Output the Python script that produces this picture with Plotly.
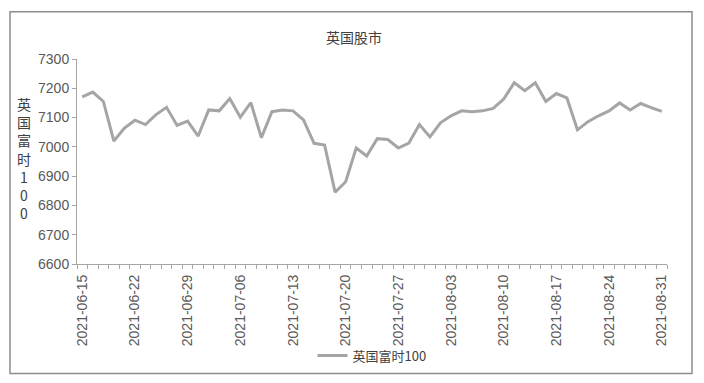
import plotly.graph_objects as go

dates = [
    "2021-06-15", "2021-06-16", "2021-06-17", "2021-06-18",
    "2021-06-21", "2021-06-22", "2021-06-23", "2021-06-24", "2021-06-25",
    "2021-06-28", "2021-06-29", "2021-06-30", "2021-07-01", "2021-07-02",
    "2021-07-05", "2021-07-06", "2021-07-07", "2021-07-08", "2021-07-09",
    "2021-07-12", "2021-07-13", "2021-07-14", "2021-07-15", "2021-07-16",
    "2021-07-19", "2021-07-20", "2021-07-21", "2021-07-22", "2021-07-23",
    "2021-07-26", "2021-07-27", "2021-07-28", "2021-07-29", "2021-07-30",
    "2021-08-02", "2021-08-03", "2021-08-04", "2021-08-05", "2021-08-06",
    "2021-08-09", "2021-08-10", "2021-08-11", "2021-08-12", "2021-08-13",
    "2021-08-16", "2021-08-17", "2021-08-18", "2021-08-19", "2021-08-20",
    "2021-08-23", "2021-08-24", "2021-08-25", "2021-08-26", "2021-08-27",
    "2021-08-30", "2021-08-31",
]

ftse100 = [
    7171, 7187, 7155, 7020,
    7064, 7091, 7076, 7110, 7135,
    7073, 7088, 7037, 7126, 7123,
    7165, 7101, 7151, 7031, 7120,
    7126, 7123, 7092, 7012, 7006,
    6845, 6881, 6996, 6969, 7028,
    7025, 6996, 7013, 7076, 7034,
    7082, 7106, 7123, 7120, 7123,
    7131, 7163, 7219, 7192, 7219,
    7155, 7182, 7167, 7058, 7086,
    7106, 7123, 7150, 7126, 7148,
    7134, 7121,
]

series_name = "英国富时100"
title_text = "英国股市"
y_title_chars = ["英", "国", "富", "时", "1", "0", "0"]
y_ticks = [6600, 6700, 6800, 6900, 7000, 7100, 7200, 7300]
label_step = 5

idx = list(range(len(dates)))
tick_idx = idx[::label_step]
tick_txt = [dates[i] for i in tick_idx]

W, H = 704, 383
ml, mr, mt, mb = 77, 37, 59, 116
pw = W - ml - mr
ph = H - mt - mb


def px_to_paper_x(px):
    return (px - ml) / pw


def px_to_paper_y(py):
    return (H - mb - py) / ph


label_font = dict(family="Liberation Sans, Arial, sans-serif", size=14, color="#595959")
cjk = "Noto Sans CJK SC, sans-serif"

fig = go.Figure()
fig.add_trace(go.Scatter(
    x=idx, y=ftse100, mode="lines", name=series_name,
    line=dict(color="#A5A5A5", width=3),
))

fig.update_layout(
    width=W, height=H,
    margin=dict(l=ml, r=mr, t=mt, b=mb, pad=0),
    paper_bgcolor="white", plot_bgcolor="white",
    title=dict(text=title_text, x=px_to_paper_x(354), xref="paper", xanchor="center",
               y=1 - 38 / H, yanchor="middle",
               font=dict(family=cjk, size=14, color="#404040")),
    showlegend=True,
    legend=dict(orientation="h", x=0.5, xanchor="center",
                y=px_to_paper_y(360), yanchor="middle",
                font=dict(family=cjk, size=13, color="#404040"),
                bgcolor="rgba(0,0,0,0)", itemwidth=30),
    xaxis=dict(
        range=[-0.5, len(dates) - 0.5], tickmode="array",
        tickvals=tick_idx, ticktext=tick_txt, tickangle=-90,
        showgrid=False, zeroline=False, showline=True,
        linecolor="#A6A6A6", linewidth=1,
        ticks="outside", ticklen=4, tickcolor="rgba(0,0,0,0)",
        tickfont=label_font,
        minor=dict(ticks="outside", ticklen=4, tickcolor="#A6A6A6",
                   tickmode="linear", tick0=-0.5, dtick=1, showgrid=False),
    ),
    yaxis=dict(
        range=[6600, 7300], tickmode="array", tickvals=y_ticks,
        showgrid=False, zeroline=False, showline=True,
        linecolor="#A6A6A6", linewidth=1,
        ticks="outside", ticklen=4, tickcolor="#A6A6A6",
        tickfont=label_font,
    ),
)

fig.add_annotation(
    text="<br>".join(y_title_chars), xref="paper", yref="paper",
    x=px_to_paper_x(24), y=px_to_paper_y(160), xanchor="center", yanchor="middle",
    showarrow=False, font=dict(family=cjk, size=14, color="#404040"),
)

fig.add_shape(
    type="rect", xref="paper", yref="paper",
    x0=px_to_paper_x(10), x1=px_to_paper_x(692),
    y0=px_to_paper_y(378), y1=px_to_paper_y(11),
    line=dict(color="#8C8C8C", width=1.5), fillcolor="rgba(0,0,0,0)", layer="below",
)

fig.write_html("out.html")
